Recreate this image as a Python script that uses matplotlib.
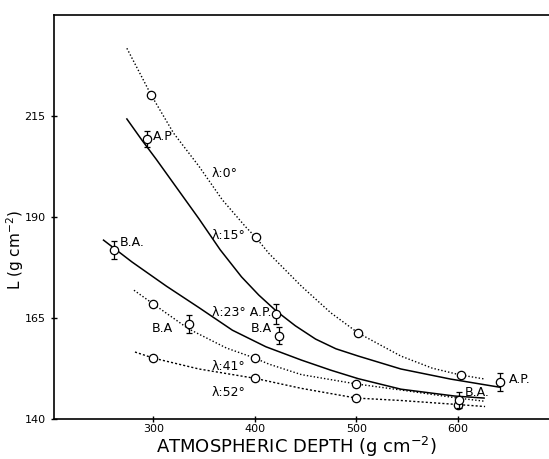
import numpy as np
import matplotlib.pyplot as plt

plt.rcParams['font.family'] = ['DejaVu Sans']

# curves (depth, L)
lam0_x = [274, 298, 320, 345, 368, 391, 401, 414, 446, 475, 502, 544, 575, 603, 627]
lam0_y = [231.8, 220.2, 210.8, 202.6, 194.3, 187.6, 185.0, 181.0, 172.9, 166.3, 161.3, 155.6, 152.6, 150.9, 149.9]
lam15_x = [274, 289, 303, 325, 345, 366, 387, 404, 421, 440, 460, 480, 502, 544, 593, 641]
lam15_y = [214.3, 209.0, 204.3, 196.6, 189.6, 181.9, 175.2, 170.7, 166.8, 163.1, 159.8, 157.4, 155.6, 152.4, 149.9, 147.9]
lam23_x = [251, 279, 313, 345, 378, 411, 446, 475, 502, 544, 597, 626]
lam23_y = [184.3, 178.9, 172.9, 167.6, 162.0, 157.9, 154.6, 152.1, 150.0, 147.4, 145.7, 145.2]
lam41_x = [281, 300, 335, 372, 400, 414, 446, 500, 544, 600, 627]
lam41_y = [171.9, 168.5, 162.3, 157.6, 155.1, 153.6, 151.0, 148.7, 147.2, 145.2, 144.4]
lam52_x = [282, 300, 345, 400, 446, 500, 544, 600, 627]
lam52_y = [156.6, 155.1, 152.4, 150.1, 147.6, 145.2, 144.6, 143.6, 143.1]

# open circles
circ_x = [298, 401, 502, 603, 300, 400, 500, 300, 400, 500, 600]
circ_y = [220.2, 185.0, 161.3, 150.9, 168.5, 155.1, 148.7, 155.1, 150.1, 145.2, 143.6]

# points with error bars
err_x = [294, 261, 335, 421, 424, 601, 642]
err_y = [209.3, 181.8, 163.5, 166.0, 160.6, 144.8, 149.2]
err_e = [2.0, 2.2, 2.3, 2.4, 2.1, 2.0, 2.3]

fig = plt.figure(figsize=(5.49, 4.59), dpi=100)
ax = fig.add_axes([0.098, 0.087, 0.902, 0.880])

ax.plot(lam0_x, lam0_y, color='k', ls=(0, (1, 1.5)), lw=1.0)
ax.plot(lam15_x, lam15_y, color='k', ls='-', lw=1.1)
ax.plot(lam23_x, lam23_y, color='k', ls='-', lw=1.1)
ax.plot(lam41_x, lam41_y, color='k', ls=(0, (1, 1.5)), lw=1.0)
ax.plot(lam52_x, lam52_y, color='k', ls=(0, (1.5, 1.5)), lw=1.0)

ax.plot(circ_x, circ_y, 'o', mfc='white', mec='k', ms=6, mew=0.9, zorder=3)
ax.errorbar(err_x, err_y, yerr=err_e, fmt='o', mfc='white', mec='k', ms=6,
            mew=0.9, ecolor='k', elinewidth=0.9, capsize=2.5, capthick=0.9, zorder=4)

fs = 9
ax.text(358, 200.9, 'λ:0°', fontsize=fs, va='center')
ax.text(358, 185.5, 'λ:15°', fontsize=fs, va='center')
ax.text(358, 166.5, 'λ:23° A.P.', fontsize=fs, va='center')
ax.text(358, 152.9, 'λ:41°', fontsize=fs, va='center')
ax.text(358, 146.7, 'λ:52°', fontsize=fs, va='center')
ax.text(267, 183.6, 'B.A.', fontsize=fs, va='center')
ax.text(300, 210.0, 'A.P', fontsize=fs, va='center')
ax.text(299, 162.3, 'B.A', fontsize=fs, va='center')
ax.text(396, 162.3, 'B.A', fontsize=fs, va='center')
ax.text(650, 149.7, 'A.P.', fontsize=fs, va='center')
ax.text(607, 146.7, 'B.A.', fontsize=fs, va='center')

ax.set_xlim(202, 690)
ax.set_ylim(140, 240)
ax.set_xticks([300, 400, 500, 600])
ax.set_yticks([140, 165, 190, 215])
ax.tick_params(axis='both', direction='inout', length=5, width=1, labelsize=8)
ax.tick_params(axis='x', pad=1)
ax.spines['right'].set_visible(False)
for s in ['left', 'top', 'bottom']:
    ax.spines[s].set_linewidth(1.2)

fig.text(0.54, 0.013, 'ATMOSPHERIC DEPTH (g cm$^{-2}$)', fontsize=13, ha='center', va='baseline')
fig.text(0.028, 0.455, 'L (g cm$^{-2}$)', fontsize=11, rotation=90, ha='center', va='center')

fig.savefig('out.png', dpi=100)
